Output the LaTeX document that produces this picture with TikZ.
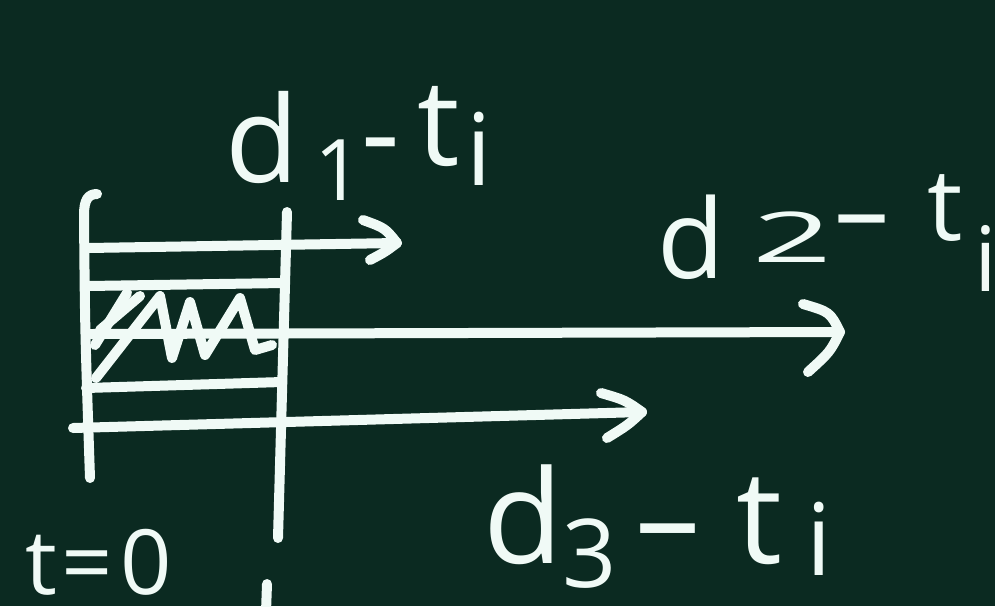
\documentclass[tikz,border=0pt]{standalone}
\usepackage{fontspec}
\setmainfont{Open Sans}
\usetikzlibrary{calc}
\definecolor{board}{RGB}{11,42,33}
\definecolor{chalk}{RGB}{240,250,246}
\newcommand{\pc}[3]{\raisebox{#1pt}{\fontsize{#2}{#2}\selectfont #3}}
\begin{document}
\begin{tikzpicture}[x=1pt,y=-1pt,
  chalkline/.style={draw=chalk,line width=10pt,line cap=round,line join=round},
  lab/.style={inner sep=0pt,text=chalk,anchor=base west}]
\useasboundingbox (0,0) rectangle (995,606);
\fill[board] (0,0) rectangle (995,606);
\clip (0,0) rectangle (995,606);
% named points
\coordinate (vAtop) at (97,194);
\coordinate (vAbot) at (90,478);
\coordinate (vBtop) at (287,212);
\coordinate (vBbot) at (278,538);
\coordinate (vCtop) at (267,584);
\coordinate (vCbot) at (266,612);
\coordinate (a1s) at (88,248);
\coordinate (a1e) at (397,243);
\coordinate (a2s) at (90,334);
\coordinate (a2e) at (840,332);
\coordinate (a3s) at (73,428);
\coordinate (a3e) at (642,412);
\coordinate (rTL) at (88,286);
\coordinate (rTR) at (284,283);
\coordinate (rBL) at (86,388);
\coordinate (rBR) at (282,382);
% verticals
\draw[chalkline] (vAtop) .. controls (88,194) and (84,200) .. (84,215) .. controls (85,330) .. (vAbot);
\draw[chalkline] (vBtop) -- (vBbot);
\draw[chalkline] (vCtop) -- (vCbot);
% hatched box
\draw[chalkline] (rTL) -- (rTR);
\draw[chalkline] (rBL) -- (rBR);
\draw[chalkline] (95,345) -- (127,293);
\draw[chalkline] (100,330) -- (140,296);
\draw[chalkline] (96,378) -- (160,296) -- (172,358) -- (190,302) -- (205,355) -- (240,298) -- (255,350) -- (272,345);
% arrows
\draw[chalkline] (a1s) -- (a1e);
\draw[chalkline] ($(a1e)+(-34,-23)$) .. controls ($(a1e)+(-12,-15)$) .. (a1e) .. controls ($(a1e)+(-12,9)$) .. ($(a1e)+(-27,17)$);
\draw[chalkline] (a2s) -- (a2e);
\draw[chalkline] ($(a2e)+(-37,-28)$) .. controls ($(a2e)+(-10,-20)$) .. (a2e) .. controls ($(a2e)+(-10,20)$) .. ($(a2e)+(-32,40)$);
\draw[chalkline] (a3s) -- (a3e);
\draw[chalkline] ($(a3e)+(-41,-19)$) .. controls ($(a3e)+(-17,-12)$) .. (a3e) .. controls ($(a3e)+(-14,13)$) .. ($(a3e)+(-35,26)$);
% labels
\node[lab] (d1) at (225,182) {\pc{0}{120}{d}\hspace{16pt}\pc{-18}{85}{1}\hspace{-2pt}\pc{8}{120}{-}\hspace{18pt}\pc{17}{120}{t}\hspace{6pt}\pc{-3}{100}{i}};
\node[lab] (d2) at (657,278) {\pc{0}{110}{d}\hspace{28pt}\pc{16}{70}{\scalebox{2.0}[1]{2}}\hspace{2pt}\pc{30}{110}{–}\hspace{38pt}\pc{38}{100}{t}\hspace{12pt}\pc{-13}{90}{i}};
\node[lab] (d3) at (483,563) {\pc{0}{130}{d}\hspace{0pt}\pc{-24}{95}{3}\hspace{18pt}\pc{0}{130}{–}\hspace{36pt}\pc{0}{130}{t}\hspace{24pt}\pc{-12}{100}{i}};
\node[lab] (t0) at (25,594) {\pc{0}{90}{t}\hspace{5pt}\pc{0}{90}{=}\hspace{7pt}\pc{0}{90}{0}};
\end{tikzpicture}
\end{document}
